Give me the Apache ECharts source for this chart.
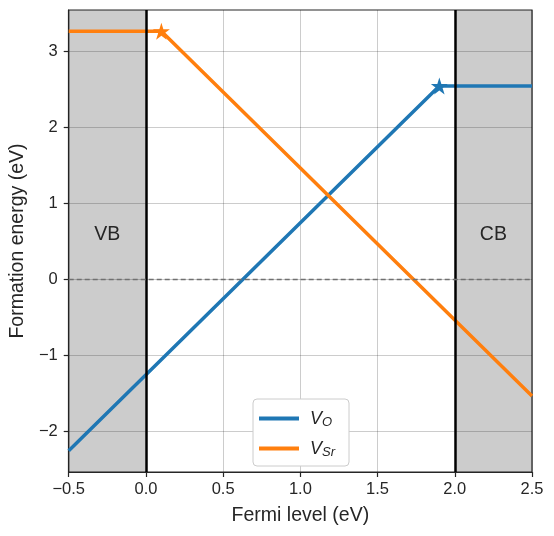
<!DOCTYPE html>
<html>
<head>
<meta charset="utf-8">
<script src="https://cdn.jsdelivr.net/npm/echarts@6/dist/echarts.min.js"></script>
<style>
  html, body { margin: 0; padding: 0; background: #fff; }
  #chart { width: 554px; height: 536px; }
</style>
</head>
<body>
<div id="chart"></div>
<script>
// data
const voPoints = [[-0.5, -2.26], [1.9, 2.54], [2.5, 2.54]];
const vsrPoints = [[-0.5, 3.26], [0.1, 3.26], [2.5, -1.54]];
const starIndex = { vo: 1, vsr: 1 };
const bandEdges = [0, 2];          // VB max, CB min
const xRange = [-0.5, 2.5];
const yRange = [-2.54, 3.54];
const yTicks = [-2, -1, 0, 1, 2, 3];
const bandLabels = [
  { name: 'VB', coord: [-0.25, 0.58] },
  { name: 'CB', coord: [2.25, 0.58] }
];

const STAR = 'path://M0,-1L0.2245,-0.309L0.9511,-0.309L0.3633,0.118L0.5878,0.809L0,0.382L-0.5878,0.809L-0.3633,0.118L-0.9511,-0.309L-0.2245,-0.309Z';
const FONT = 'Liberation Sans';
const TXT = '#262626';
const minus = s => String(s).replace('-', '\u2212');

function withStar(points, idx) {
  return points.map((p, i) => ({
    value: p,
    symbol: i === idx ? STAR : 'none',
    symbolSize: i === idx ? 17 : 0
  }));
}

let myChart = echarts.init(document.getElementById('chart'), null, { renderer: 'canvas' });
let option = {
  animation: false,
  textStyle: { fontFamily: FONT },
  grid: {
    left: 67, right: 22, top: 10, bottom: 64,
    show: true, borderColor: TXT, borderWidth: 1.2, backgroundColor: 'transparent'
  },
  xAxis: {
    type: 'value',
    min: xRange[0], max: xRange[1], interval: 0.5,
    name: 'Fermi level (eV)', nameLocation: 'middle', nameGap: 34,
    nameTextStyle: { fontSize: 19.5, color: TXT, fontFamily: FONT },
    axisLine: { show: true, onZero: false, lineStyle: { color: TXT, width: 1.2 } },
    axisTick: { show: true, length: 5, lineStyle: { color: TXT, width: 1.2 } },
    axisLabel: { fontSize: 16.5, color: TXT, margin: 9, fontFamily: FONT, formatter: v => minus(v.toFixed(1)) },
    splitLine: { show: true, lineStyle: { color: 'rgba(0,0,0,0.2)', width: 1 } }
  },
  yAxis: {
    type: 'value',
    min: yRange[0], max: yRange[1],
    name: 'Formation energy (eV)', nameLocation: 'middle', nameGap: 39,
    nameTextStyle: { fontSize: 19.5, color: TXT, fontFamily: FONT },
    axisLine: { show: true, onZero: false, lineStyle: { color: TXT, width: 1.2 } },
    axisTick: { show: true, length: 5, customValues: yTicks, lineStyle: { color: TXT, width: 1.2 } },
    axisLabel: { fontSize: 16.5, color: TXT, margin: 11, fontFamily: FONT, customValues: yTicks, formatter: v => minus(v) },
    splitLine: { show: true, lineStyle: { color: 'rgba(0,0,0,0.2)', width: 1 } }
  },
  legend: {
    left: 253, top: 399,
    orient: 'vertical',
    backgroundColor: '#fff',
    borderColor: '#cccccc', borderWidth: 1, borderRadius: 4,
    padding: [9, 14, 7, 6],
    itemGap: 9,
    itemWidth: 40, itemHeight: 4,
    icon: 'rect',
    data: ['VO', 'VSr'],
    formatter: name => name === 'VO' ? '{v|V}{s|O}' : '{v|V}{s|Sr}',
    textStyle: {
      color: TXT,
      rich: {
        v: { fontSize: 18, fontStyle: 'italic', fontFamily: FONT, color: TXT, lineHeight: 18, padding: [0, 0, 0, 6] },
        s: { fontSize: 13, fontStyle: 'italic', fontFamily: FONT, color: TXT, lineHeight: 18, padding: [8, 0, 0, 0] }
      }
    }
  },
  series: [
    {
      name: 'bands',
      type: 'line',
      data: [],
      z: 1,
      silent: true,
      markArea: {
        silent: true,
        itemStyle: { color: 'rgba(0,0,0,0.2)' },
        data: [
          [{ xAxis: xRange[0] }, { xAxis: bandEdges[0] }],
          [{ xAxis: bandEdges[1] }, { xAxis: xRange[1] }]
        ]
      },
      markLine: {
        silent: true,
        symbol: 'none',
        label: { show: false },
        data: [
          { xAxis: bandEdges[0], lineStyle: { color: '#000', width: 2.5, type: 'solid' } },
          { xAxis: bandEdges[1], lineStyle: { color: '#000', width: 2.5, type: 'solid' } },
          { yAxis: 0, lineStyle: { color: '#707070', width: 1.3, type: [5, 3] } }
        ]
      },
      markPoint: {
        silent: true,
        symbol: 'circle', symbolSize: 0,
        label: { show: true, formatter: '{b}', fontSize: 19.5, color: TXT, fontFamily: FONT },
        data: bandLabels.map(b => ({ name: b.name, coord: b.coord }))
      }
    },
    {
      name: 'VO',
      type: 'line',
      z: 3,
      color: '#1f77b4',
      lineStyle: { width: 3.5 },
      itemStyle: { color: '#1f77b4' },
      data: withStar(voPoints, starIndex.vo)
    },
    {
      name: 'VSr',
      type: 'line',
      z: 3,
      color: '#ff7f0e',
      lineStyle: { width: 3.5 },
      itemStyle: { color: '#ff7f0e' },
      data: withStar(vsrPoints, starIndex.vsr)
    }
  ]
};
myChart.setOption(option);
</script>
</body>
</html>
